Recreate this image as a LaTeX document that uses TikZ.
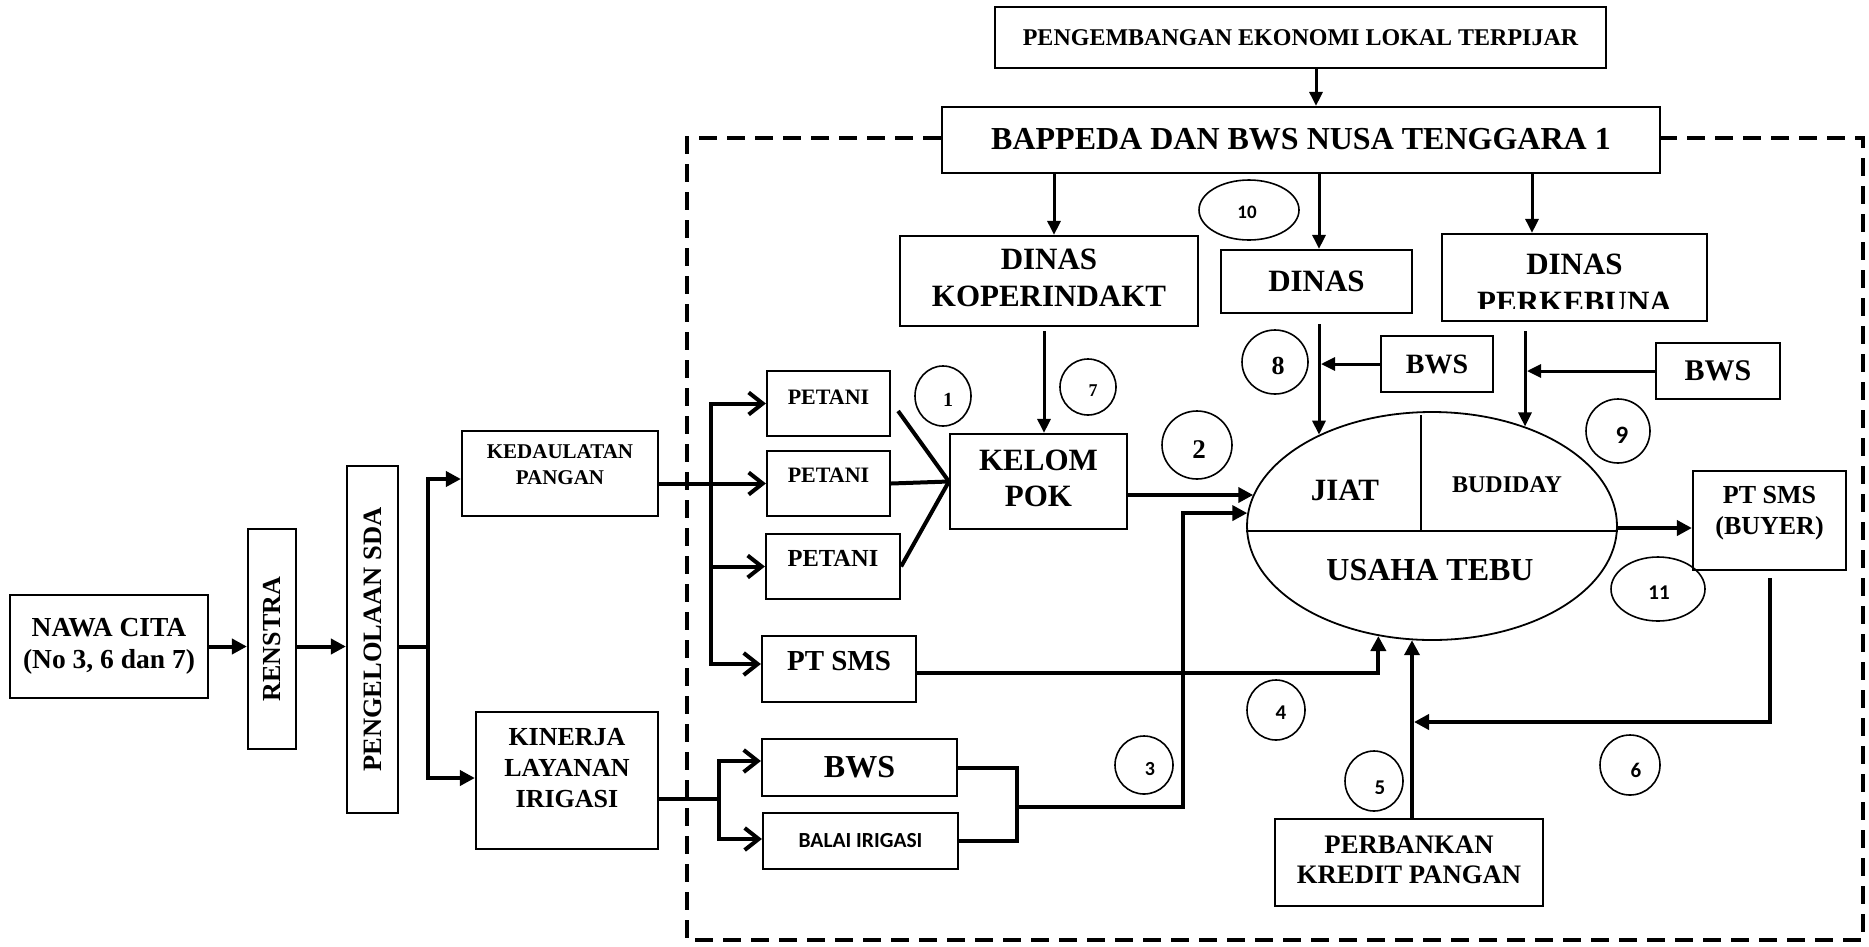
\documentclass[tikz,border=0pt]{standalone}
\usepackage{fontspec}
\setmainfont{Liberation Serif}
\newfontfamily\calfont{Carlito}
\usepackage{graphicx}
\usetikzlibrary{arrows.meta,shapes.geometric,calc}
\newcommand{\myfs}[2]{\fontsize{#1}{#2}\selectfont}
\newcommand{\btext}[2][0pt]{\raisebox{#1}[\height][\depth]{\begin{tabular}{@{}c@{}}#2\end{tabular}}}
\begin{document}
\begin{tikzpicture}[x=1pt,y=-1pt,
  mybox/.style={draw, line width=2.2pt, inner sep=0pt},
  ell/.style={draw, ellipse, line width=1.6pt, inner sep=0pt},
  numtxt/.style={inner sep=0pt, font={\bfseries\myfs{#1}{#1}}},
  numsans/.style={inner sep=0pt, font={\calfont\bfseries\myfs{#1}{#1}}},
  conn/.style={line width=4pt},
  arr/.style={line width=4pt, -{Triangle[length=15pt,width=15pt]}},
  arrthin/.style={line width=3pt, -{Triangle[length=14pt,width=13pt]}},
  oarr/.style={line width=4pt, -{Straight Barb[length=14pt,width=22pt]}},
  dashframe/.style={line width=4pt, dash pattern=on 18pt off 10pt},
]
\useasboundingbox (0,0) rectangle (1869,946);
\fill[white] (0,0) rectangle (1869,946);

% ---------- left chain ----------
\node[mybox, minimum width=198pt, minimum height=103pt, font={\bfseries\myfs{27.5}{32}}] (nawa) at (109,646.5) {\btext{NAWA CITA\\(No 3, 6 dan 7)}};
\node[mybox, minimum width=48pt, minimum height=220pt, font={\bfseries\myfs{26}{31}}] (ren) at (272,639) {\rotatebox{90}{RENSTRA}};
\node[mybox, minimum width=51pt, minimum height=347pt, font={\bfseries\myfs{26.5}{31}}] (peng) at (372.5,639.5) {\rotatebox{90}{PENGELOLAAN SDA}};
\node[mybox, minimum width=196pt, minimum height=85pt, font={\bfseries\myfs{21}{26}}] (ked) at (560,473.5) {\btext[7pt]{KEDAULATAN\\PANGAN}};
\node[mybox, minimum width=182pt, minimum height=137pt, font={\bfseries\myfs{26}{31}}] (kin) at (567,780.5) {\btext[10pt]{KINERJA\\LAYANAN\\IRIGASI}};

% ---------- middle-left boxes ----------
\node[mybox, minimum width=123pt, minimum height=65pt, font={\bfseries\myfs{22}{26}}] (pet1) at (828.5,403.5) {\btext[4pt]{PETANI}};
\node[mybox, minimum width=123pt, minimum height=65pt, font={\bfseries\myfs{22}{26}}] (pet2) at (828.5,483.5) {\btext[6pt]{PETANI}};
\node[mybox, minimum width=134pt, minimum height=65pt, font={\bfseries\myfs{24.5}{28}}] (pet3) at (833,566.5) {\btext[6pt]{PETANI}};
\node[mybox, minimum width=154pt, minimum height=66pt, font={\bfseries\myfs{29}{34}}] (ptsms) at (839,669) {\btext[5pt]{PT SMS}};
\node[mybox, minimum width=195pt, minimum height=57pt, font={\bfseries\myfs{32}{36}}] (bwsL) at (859.5,767.5) {BWS};
\node[mybox, minimum width=195pt, minimum height=56pt, font={\calfont\bfseries\myfs{21.5}{25}}] (balai) at (860.5,841) {BALAI IRIGASI};
\node[mybox, minimum width=177pt, minimum height=95pt, font={\bfseries\myfs{31}{36}}] (kel) at (1038.5,481.5) {\btext{KELOM\\POK}};

% ---------- top ----------
\node[mybox, minimum width=611pt, minimum height=61pt, font={\bfseries\myfs{24}{28}}] (peng2) at (1300.5,37.5) {PENGEMBANGAN EKONOMI LOKAL TERPIJAR};
\node[mybox, minimum width=718pt, minimum height=66pt, font={\bfseries\myfs{32}{38}}] (bap) at (1301,140) {\raisebox{3pt}{BAPPEDA DAN BWS NUSA TENGGARA 1}};
\node[mybox, minimum width=298pt, minimum height=90pt, font={\bfseries\myfs{31}{37}}] (kop) at (1049,281) {\btext{DINAS\\KOPERINDAKT}};
\node[mybox, minimum width=191pt, minimum height=63pt, font={\bfseries\myfs{31}{36}}] (din) at (1316.5,281.5) {DINAS};
\node[mybox, minimum width=265pt, minimum height=87pt] (perk) at (1574.5,277.5) {};
\node[anchor=base, inner sep=0pt, font={\bfseries\myfs{31}{36}}] (perkA) at (1574.5,274) {DINAS};
\begin{scope}
\clip (1450,280) rectangle (1700,308.5);
\node[anchor=base, inner sep=0pt, font={\bfseries\myfs{31}{36}}] (perkB) at (1574.5,312) {PERKEBUNA};
\end{scope}
\node[mybox, minimum width=112pt, minimum height=56pt, font={\bfseries\myfs{28}{32}}] (bws1) at (1437,364) {BWS};
\node[mybox, minimum width=124pt, minimum height=56pt, font={\bfseries\myfs{30}{34}}] (bws2) at (1718,371) {BWS};

% ---------- central ellipse ----------
\node[draw, ellipse, line width=1.8pt, inner sep=0pt, minimum width=370pt, minimum height=228pt] (usaha) at (1432,526) {};
\draw[line width=1.8pt] ([yshift=-5pt]usaha.west) -- ([yshift=-5pt]usaha.east);
\draw[line width=1.5pt] (1421,415) -- (1421,531);
\node[inner sep=0pt, font={\bfseries\myfs{31}{36}}] (jiat) at (1345,490) {JIAT};
\node[inner sep=0pt, font={\bfseries\myfs{24}{28}}] (budi) at (1507,485) {BUDIDAY};
\node[inner sep=0pt, font={\bfseries\myfs{32}{36}}] (tebu) at (1430,570) {USAHA TEBU};

% ---------- right / bottom ----------
\node[mybox, minimum width=153pt, minimum height=99pt, font={\bfseries\myfs{26}{31}}] (buyer) at (1769.5,520.5) {\btext[8pt]{PT SMS\\(BUYER)}};
\node[mybox, minimum width=268pt, minimum height=87pt, font={\bfseries\myfs{26.7}{30}}] (perb) at (1409,862.5) {\btext{PERBANKAN\\KREDIT PANGAN}};

% ---------- number circles ----------
\node[ell, minimum width=100pt, minimum height=60pt] (c10) at (1249,210) {};
\node[numsans=19] (t10) at (1247,212) {10};
\node[ell, minimum width=56pt, minimum height=60pt] (c1) at (943,396) {};
\node[numtxt=20] (t1) at (948,400) {1};
\node[ell, minimum width=56pt, minimum height=56pt] (c7) at (1088,387) {};
\node[numtxt=18] (t7) at (1093,391) {7};
\node[ell, minimum width=70pt, minimum height=68pt] (c2) at (1197,445) {};
\node[numtxt=27] (t2) at (1199,450) {2};
\node[ell, minimum width=66pt, minimum height=64pt] (c8) at (1275,362) {};
\node[numtxt=26] (t8) at (1278,366) {8};
\node[ell, minimum width=64pt, minimum height=64pt] (c9) at (1618,431) {};
\node[numsans=25] (t9) at (1622,435) {9};
\node[ell, minimum width=94pt, minimum height=64pt] (c11) at (1658,589) {};
\node[numsans=21] (t11) at (1659,593) {11};
\node[ell, minimum width=58pt, minimum height=60pt] (c4) at (1276,710) {};
\node[numsans=21] (t4) at (1281,713) {4};
\node[ell, minimum width=58pt, minimum height=60pt] (c5) at (1374,781) {};
\begin{scope}
\clip (1360,770) rectangle (1400,793);
\node[numsans=21] (t5) at (1380,788) {5};
\end{scope}
\node[ell, minimum width=58pt, minimum height=58pt] (c3) at (1144,765) {};
\node[numsans=20] (t3) at (1150,769) {3};
\node[ell, minimum width=60pt, minimum height=60pt] (c6) at (1630,765) {};
\node[numsans=21] (t6) at (1636,770) {6};

% ---------- coordinates ----------
\coordinate (bx) at (428,0);
\coordinate (j0) at (bx |- nawa.east);
\coordinate (bb) at (711,0);
\coordinate (kb) at (719,0);
\coordinate (ptin) at ([yshift=5pt]ptsms.west);
\coordinate (kout) at ([yshift=-18.5pt]kin.east);
\coordinate (kelout) at ([yshift=-13.5pt]kel.east);
\coordinate (j3) at (1017,807);
\coordinate (j4) at (1183,807);
\coordinate (dl) at (1321,0);
\coordinate (pl) at (1527,0);
\coordinate (pj) at (1414,722);

% ---------- connectors: left ----------
\draw[arr] (nawa.east) -- (nawa.east -| ren.west);
\draw[arr] (ren.east |- nawa.east) -- (nawa.east -| peng.west);
\draw[conn] (peng.east |- nawa.east) -- (j0);
\draw[arr] (j0) |- ([yshift=-5.5pt]ked.west);
\draw[arr] (j0) |- ([yshift=2.5pt]kin.west);

\draw[oarr] (ked.east |- pet2.west) -- (pet2.west);
\draw[oarr] (bb |- pet2.west) |- (pet1.west);
\draw[oarr] (bb |- pet2.west) |- (pet3.west);
\draw[oarr] (bb |- pet2.west) |- (ptin);

\draw[conn] (kin.east |- kout) -- (kout -| kb);
\draw[oarr] (kout -| kb) |- ([yshift=6.5pt]bwsL.west);
\draw[oarr] (kout -| kb) |- ([yshift=2pt]balai.west);

\draw[conn] ([xshift=7pt,yshift=-7.5pt]pet1.east) -- (kel.west);
\draw[conn] (pet2.east) -- (kel.west);
\draw[conn] (pet3.east) -- (kel.west);

\draw[arr] (kelout) -- (kelout -| usaha.170);
\draw[conn] (bwsL.east) -| (j3) |- (balai.east);
\draw[arr] (j3) -- (j4) |- (usaha.176);
\draw[arr] ([yshift=-4pt]ptsms.east) -| (usaha.244);

% ---------- connectors: top ----------
\draw[arrthin] ([xshift=15.5pt]peng2.south) -- ([xshift=15pt]bap.north);
\draw[arrthin] ([xshift=-247pt]bap.south) -- ([xshift=5pt]kop.north);
\draw[arrthin] ([xshift=18pt]bap.south) -- ([xshift=2.5pt]din.north);
\draw[arrthin] ([xshift=231pt]bap.south) -- ([xshift=-42.5pt]perk.north);
\draw[arrthin] ([xshift=-5pt,yshift=-4pt]kop.south) -- ([xshift=5.5pt]kel.north);
\draw[arrthin] ([xshift=2.5pt,yshift=-10pt]din.south) -- ([xshift=2.5pt]din.south |- usaha.141);
\draw[arrthin] (bws1.west) -- (bws1.west -| dl);
\draw[arrthin] ([xshift=-49.5pt,yshift=-9pt]perk.south) -- ([xshift=-49.5pt]perk.south |- usaha.47);
\draw[arrthin] (bws2.west) -- (bws2.west -| pl);

% ---------- connectors: right / bottom ----------
\draw[arr] ([yshift=-2pt]usaha.east) -- ([yshift=-2pt]usaha.east -| buyer.west);
\draw[arr] ([xshift=3pt]perb.north) -- ([xshift=3pt]perb.north |- usaha.260);
\draw[arr] ([yshift=-7pt]buyer.south) |- (pj);

% ---------- dashed frame ----------
\draw[dashframe] ([yshift=2pt]bap.west) -- (687,138) -- (687,940) -- (1863,940) -- (1863,138) -- ([yshift=2pt]bap.east);
\end{tikzpicture}
\end{document}
